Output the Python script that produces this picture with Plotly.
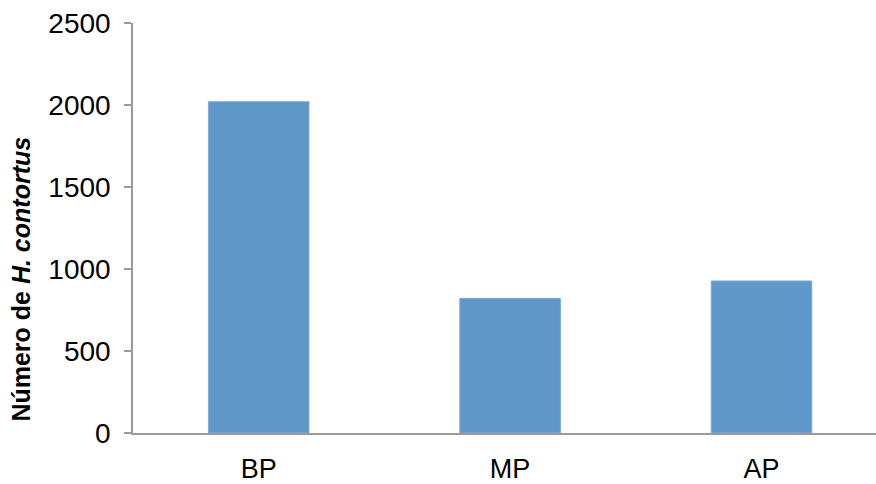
import plotly.graph_objects as go

categories = ["BP", "MP", "AP"]
values = [2020, 821, 927]
y_ticks = [0, 500, 1000, 1500, 2000, 2500]

W, H = 876, 484
ml, mr, mt, mb = 133, 0, 23, 44

fig = go.Figure()
fig.add_trace(go.Bar(
    x=list(range(len(categories))), y=values,
    marker=dict(color="#6097C9", line=dict(color="#7FAAD6", width=1)),
    width=0.4,
))

plot_w = W - ml - mr
unit = 251.4
fig.update_layout(
    width=W, height=H,
    margin=dict(l=ml, r=mr, t=mt, b=mb),
    plot_bgcolor="white", paper_bgcolor="white",
    showlegend=False,
    font=dict(family="Liberation Sans, Arial, sans-serif", color="black", size=28),
    xaxis=dict(
        range=[-0.5, -0.5 + plot_w / unit],
        tickmode="array", tickvals=list(range(len(categories))), ticktext=categories,
        showline=True, linecolor="#9a9a9a", linewidth=1.5,
        showgrid=False, zeroline=False, ticks="",
        ticklabelstandoff=11,
        tickfont=dict(size=27),
    ),
    yaxis=dict(
        range=[0, 2500],
        tickmode="array", tickvals=y_ticks, ticktext=[str(v) for v in y_ticks],
        showline=True, linecolor="#9a9a9a", linewidth=1.5,
        showgrid=False, zeroline=False,
        ticks="outside", ticklen=7, tickcolor="#9a9a9a", tickwidth=1.5,
        ticklabelstandoff=8,
        tickfont=dict(size=28),
    ),
    annotations=[dict(
        text="<b>Número de <i>H. contortus</i></b>",
        xref="paper", yref="paper",
        x=(21 - ml) / plot_w, y=(440 - 284) / (H - mt - mb),
        xanchor="center", yanchor="middle",
        textangle=-90, showarrow=False,
        font=dict(size=25, color="black"),
    )],
)

fig.write_html("out.html")
